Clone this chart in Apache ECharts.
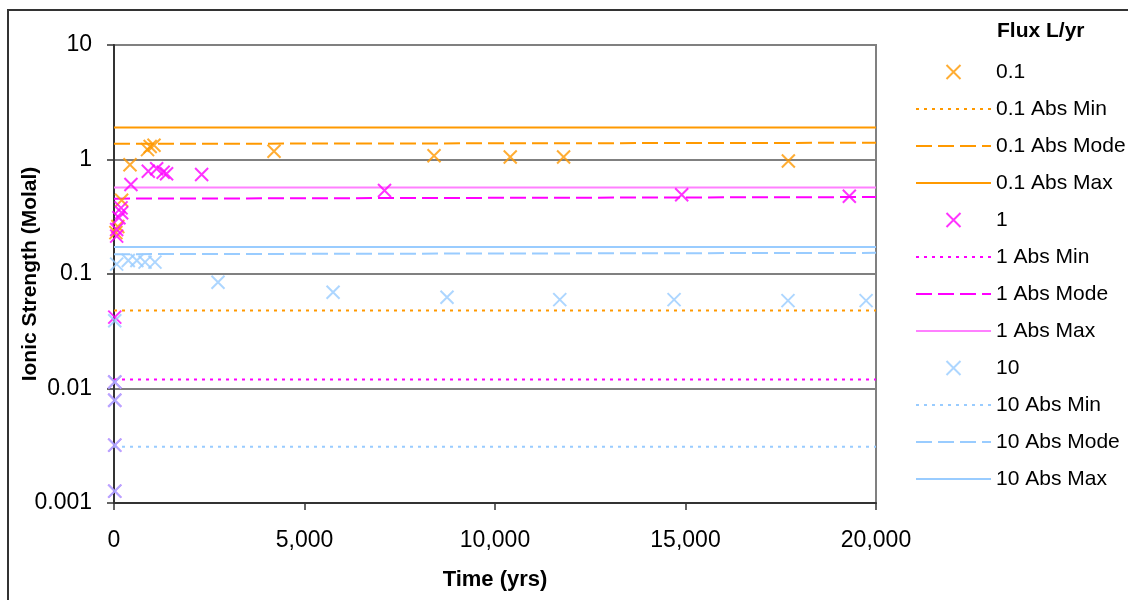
<!DOCTYPE html>
<html>
<head>
<meta charset="utf-8">
<script src="https://cdn.jsdelivr.net/npm/echarts@6/dist/echarts.min.js"></script>
<style>
html,body{margin:0;padding:0;background:#fff;}
#chart{width:1128px;height:600px;}
</style>
</head>
<body>
<div id="chart"></div>
<script>
// ---- data ----
var xTicks = [0, 5000, 10000, 15000, 20000];
var yTickLabels = ['0.001', '0.01', '0.1', '1', '10'];

var flux01Time  = [50, 100, 200, 420, 880, 950, 1050, 4200, 8400, 10400, 11800, 17700];
var flux01Value = [0.23, 0.26, 0.44, 0.90, 1.22, 1.30, 1.33, 1.18, 1.08, 1.05, 1.05, 0.97];

var flux1Time  = [20, 20, 20, 20, 20, 70, 70, 130, 185, 200, 445, 900, 1120, 1290, 1380, 2300, 7100, 14900, 19300];
var flux1Value = [0.042, 0.0114, 0.0079, 0.0032, 0.00127, 0.214, 0.245, 0.31, 0.378, 0.343, 0.605, 0.79, 0.83, 0.775, 0.75, 0.74, 0.536, 0.492, 0.478];

var flux10Time  = [20, 20, 20, 20, 20, 70, 375, 600, 815, 1075, 2730, 5750, 8740, 11700, 14700, 17690, 19740];
var flux10Value = [0.039, 0.0114, 0.0079, 0.0032, 0.00127, 0.122, 0.131, 0.131, 0.127, 0.127, 0.0846, 0.0692, 0.0626, 0.0597, 0.0597, 0.0585, 0.0585];

var lineTime = [0, 20000];
var flux01Min  = [0.048, 0.048];
var flux01Mode = [1.37, 1.40];
var flux01Max  = [1.90, 1.90];
var flux1Min   = [0.012, 0.012];
var flux1Mode  = [0.455, 0.47];
var flux1Max   = [0.57, 0.57];
var flux10Min  = [0.0031, 0.0031];
var flux10Mode = [0.149, 0.153];
var flux10Max  = [0.172, 0.172];

// ---- helpers ----
function pairs(xs, ys) { return xs.map(function (x, i) { return [x, ys[i]]; }); }
var FONT = '"Liberation Sans", Arial, sans-serif';
var XSYM = 'path://M0,0L10,10M0,10L10,0';
var ORANGE = '#ff9900', MAGENTA = '#ff00ff', PINK = '#ff80ff', BLUE = '#99ccff';
var DOT = [3, 5], DASH = [16, 6];

function scatter(name, color, xs, ys) {
  return {
    name: name, type: 'scatter', data: pairs(xs, ys),
    symbol: XSYM, symbolSize: 13, symbolKeepAspect: true,
    itemStyle: { color: 'none', borderColor: color, borderWidth: 2 },
    emphasis: { disabled: true }, z: 3
  };
}
function line(name, color, ys, type, width) {
  return {
    name: name, type: 'line', data: pairs(lineTime, ys),
    symbol: 'none', showSymbol: false,
    lineStyle: { color: color, width: width || 2, type: type },
    itemStyle: { color: color, opacity: 0 },
    emphasis: { disabled: true }, z: 2
  };
}

var series = [
  scatter('0.1', ORANGE, flux01Time, flux01Value),
  line('0.1 Abs Min', ORANGE, flux01Min, DOT),
  line('0.1 Abs Mode', ORANGE, flux01Mode, DASH),
  line('0.1 Abs Max', ORANGE, flux01Max, 'solid'),
  scatter('1', MAGENTA, flux1Time, flux1Value),
  line('1 Abs Min', MAGENTA, flux1Min, DOT),
  line('1 Abs Mode', MAGENTA, flux1Mode, DASH),
  line('1 Abs Max', PINK, flux1Max, 'solid'),
  scatter('10', BLUE, flux10Time, flux10Value),
  line('10 Abs Min', BLUE, flux10Min, DOT),
  line('10 Abs Mode', BLUE, flux10Mode, DASH),
  line('10 Abs Max', BLUE, flux10Max, 'solid')
];

var legendData = series.map(function (s) {
  return s.type === 'line' ? { name: s.name, itemStyle: { opacity: 0 } } : { name: s.name };
});

var chart = echarts.init(document.getElementById('chart'), null, { renderer: 'canvas' });
chart.setOption({
  animation: false,
  backgroundColor: '#fff',
  textStyle: { fontFamily: FONT },
  grid: {
    left: 114, right: 252, top: 45, bottom: 97,
    outerBoundsMode: 'none', containLabel: false,
    show: true, borderColor: '#808080', borderWidth: 2, backgroundColor: '#fff'
  },
  xAxis: {
    type: 'value', min: xTicks[0], max: xTicks[xTicks.length - 1], interval: 5000,
    name: 'Time (yrs)', nameLocation: 'middle', nameGap: 66, nameMoveOverlap: false,
    nameTextStyle: { fontFamily: FONT, fontSize: 22, fontWeight: 'bold', color: '#000' },
    axisLine: { lineStyle: { color: '#333', width: 2 } },
    axisTick: { show: true, length: 7, lineStyle: { color: '#333', width: 1.5 } },
    axisLabel: {
      fontFamily: FONT, fontSize: 23, color: '#000', margin: 26,
      formatter: function (v) { return v.toLocaleString('en-US'); }
    },
    splitLine: { show: false }
  },
  yAxis: {
    type: 'log', logBase: 10, min: 0.001, max: 10,
    name: 'Ionic Strength (Molal)', nameLocation: 'middle', nameGap: 73, nameMoveOverlap: false,
    nameTextStyle: { fontFamily: FONT, fontSize: 21, fontWeight: 'bold', color: '#000' },
    axisLine: { lineStyle: { color: '#333', width: 2 } },
    axisTick: { show: true, length: 7, lineStyle: { color: '#333', width: 1.5 } },
    minorTick: { show: false },
    axisLabel: {
      fontFamily: FONT, fontSize: 23, color: '#000', margin: 22,
      formatter: function (v) {
        var k = Math.round(Math.log10(v)) + 3;
        return yTickLabels[k] !== undefined ? yTickLabels[k] : '';
      }
    },
    splitLine: { show: true, lineStyle: { color: '#808080', width: 2 } }
  },
  legend: {
    orient: 'vertical', left: 910, top: 56,
    itemWidth: 75, itemHeight: 14, itemGap: 15,
    textStyle: { fontFamily: FONT, fontSize: 21, color: '#000', lineHeight: 22 },
    data: legendData,
    selectedMode: false
  },
  graphic: [
    { type: 'rect', shape: { x: 8, y: 10, width: 1200, height: 700 },
      style: { fill: 'none', stroke: '#333', lineWidth: 2 }, silent: true, z: 100 },
    { type: 'text', left: 997, top: 21,
      style: { text: 'Flux L/yr', font: 'bold 21px ' + FONT, fill: '#000' } }
  ],
  series: series
});
</script>
</body>
</html>
